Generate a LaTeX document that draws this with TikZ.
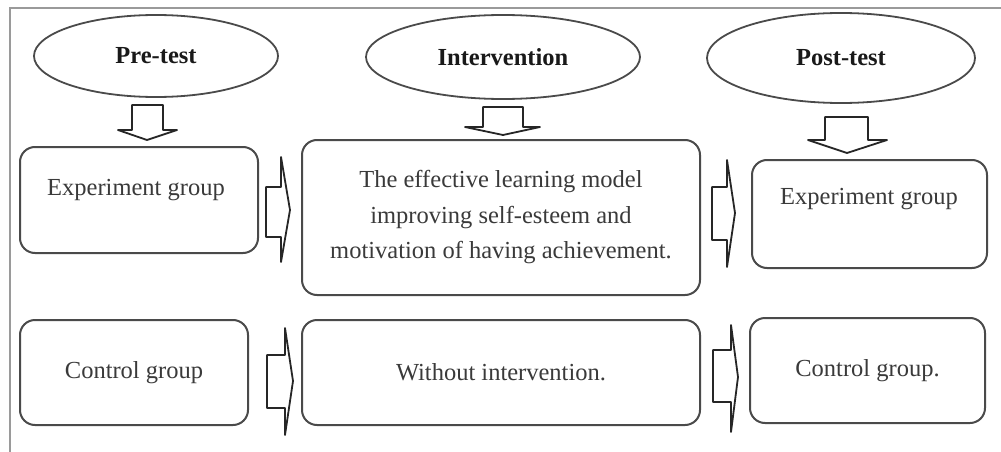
\documentclass[tikz,border=0pt]{standalone}
\usepackage{fontspec}
\setmainfont{Liberation Serif}
\usetikzlibrary{shapes.geometric}
\definecolor{linegray}{HTML}{4A4A4A}
\definecolor{txtgray}{HTML}{3A3A3A}
\definecolor{framegray}{HTML}{9A9A9A}
\begin{document}
\begin{tikzpicture}[x=1pt,y=-1pt,
  oval/.style={ellipse, draw=linegray, line width=1.8pt, inner sep=0pt, font=\fontsize{24.5}{30}\selectfont\bfseries, text=black!90},
  gbox/.style={draw=linegray, line width=2pt, rounded corners=15pt, inner sep=0pt, font=\fontsize{24.5}{35.5}\selectfont, text=txtgray, align=center},
  barrow/.style={draw=black!85, line width=1.8pt, fill=white, line join=round}
]
\useasboundingbox (0,0) rectangle (1001,452);
\fill[white] (0,0) rectangle (1001,452);
\draw[framegray, line width=2pt] (1001,8) -- (9.5,8) -- (9.5,452);

% ellipses
\node[oval, minimum width=244pt, minimum height=82pt] (pre) at (156,56) {Pre-test};
\node[oval, minimum width=274pt, minimum height=84pt] (int) at (503,57) {Intervention};
\node[oval, minimum width=268pt, minimum height=90pt] (post) at (841,58) {Post-test};

% boxes top row
\node[gbox, minimum width=238pt, minimum height=106pt] (exp1) at (139,200) {};
\node[font=\fontsize{24.5}{30}\selectfont, text=txtgray] (exp1t) at (136,190) {Experiment group};
\node[gbox, minimum width=398pt, minimum height=155pt] (model) at (501,217.5)
  {The effective learning model\\improving self-esteem and\\motivation of having achievement.};
\node[gbox, minimum width=235pt, minimum height=108pt] (exp2) at (869.5,214) {};
\node[font=\fontsize{24.5}{30}\selectfont, text=txtgray] (exp2t) at (869,199) {Experiment group};

% boxes bottom row
\node[gbox, minimum width=228pt, minimum height=105pt] (ctrl1) at (134,372.5) {Control group};
\node[gbox, minimum width=398pt, minimum height=105pt] (without) at (501,372.5) {Without intervention.};
\node[gbox, minimum width=235pt, minimum height=105pt] (ctrl2) at (867.5,370.5) {Control group.};

% down block arrows
\draw[barrow] (132,105) -- (132,130) -- (118,130) -- (147,140) -- (177,130) -- (163,130) -- (163,105) -- cycle;
\draw[barrow] (483,107) -- (483,127) -- (465,127) -- (503,135) -- (540,127) -- (523,127) -- (523,107) -- cycle;
\draw[barrow] (825,117) -- (825,140) -- (808,140) -- (847,153) -- (887,140) -- (868,140) -- (868,117) -- cycle;

% right block arrows
\draw[barrow] (266,187) -- (281,187) -- (281,157) -- (290,210) -- (281,262) -- (281,237) -- (266,237) -- cycle;
\draw[barrow] (712,187) -- (727,187) -- (727,160) -- (735,213) -- (727,267) -- (727,240) -- (712,240) -- cycle;
\draw[barrow] (267,355) -- (285,355) -- (285,328) -- (293,381) -- (285,435) -- (285,408) -- (267,408) -- cycle;
\draw[barrow] (713,350) -- (731,350) -- (731,325) -- (738,377) -- (731,432) -- (731,402) -- (713,402) -- cycle;
\end{tikzpicture}
\end{document}
